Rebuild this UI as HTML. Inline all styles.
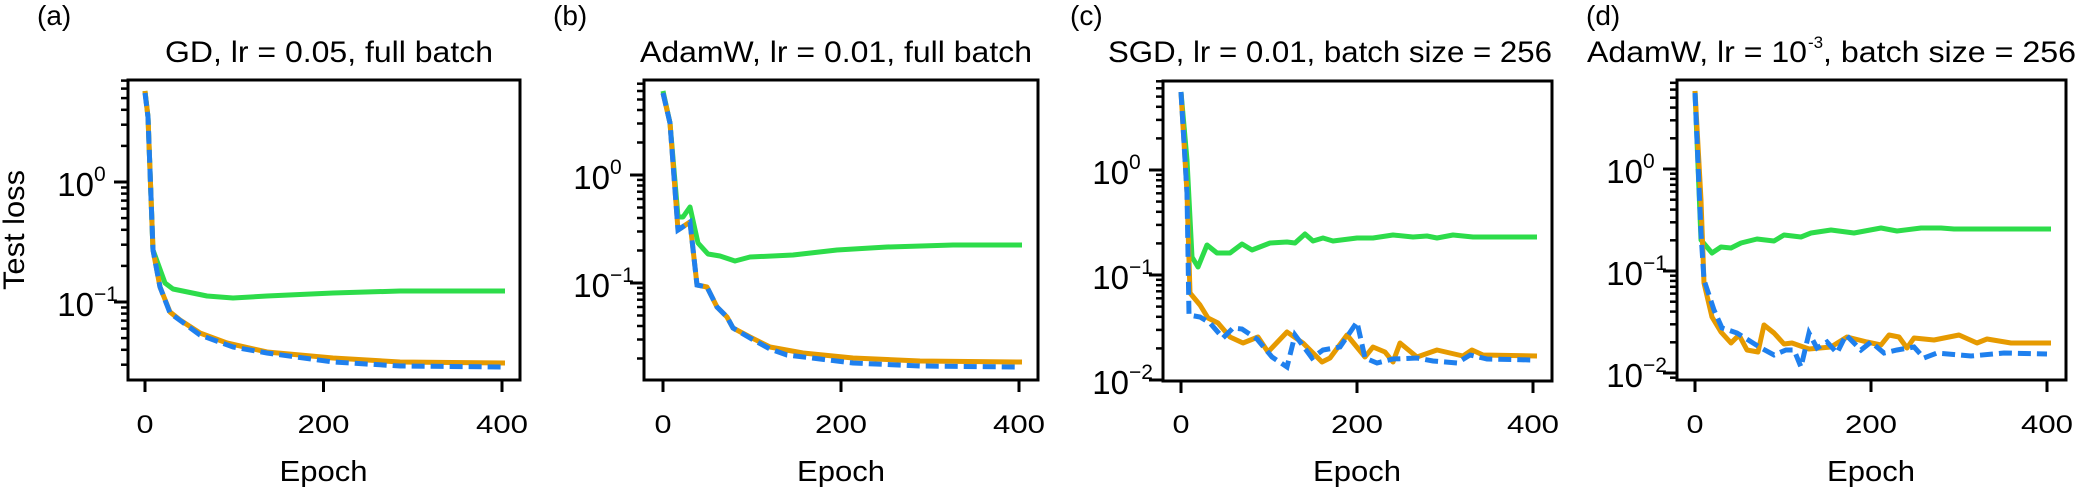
<!DOCTYPE html>
<html><head><meta charset="utf-8"><style>
html,body{margin:0;padding:0;background:#fff;}
svg{display:block;font-family:"Liberation Sans",Arial,sans-serif;}
</style></head><body>
<svg id="s" width="2094" height="488" viewBox="0 0 2094 488" xmlns="http://www.w3.org/2000/svg"></svg>
<script>
const P=[
 {L:128,R:520,T:80,B:380,y0:182,d:120,x0:145,x400:502,lab:"(a)",lx:37,title:"GD, lr = 0.05, full batch",tx:165,tw:328,
  g:[[145,91],[148,117],[153,250],[165,283],[173,289],[207,296],[233,298],[267,296],[333,293],[400,291],[505,291]],
  o:[[145,91],[148,117],[153,250],[160,287],[170,312],[180,320],[200,333],[227,343],[267,352],[333,358],[400,362],[505,363]],
  b:[[145,93],[148,117],[153,250],[160,287],[170,313],[200,335],[233,347],[267,353],[333,362],[400,366],[502,367]]},
 {L:644,R:1038,T:80,B:380,y0:175,d:108,x0:663,x400:1019,lab:"(b)",lx:553,title:"AdamW, lr = 0.01, full batch",tx:640,tw:392,
  g:[[663,91],[670,123],[678,217],[683,217],[690,207],[698,243],[708,254],[720,256],[735,261],[750,257],[793,255],[837,250],[887,247],[953,245],[1022,245]],
  o:[[663,93],[670,123],[678,230],[690,222],[697,285],[707,287],[717,307],[727,317],[733,328],[750,337],[770,347],[803,353],[853,358],[920,361],[1022,362]],
  b:[[663,93],[670,123],[678,230],[690,222],[697,285],[707,287],[717,307],[727,317],[733,328],[750,338],[770,349],[787,355],[853,363],[920,366],[1018,367]]},
 {L:1163,R:1552,T:81,B:381,y0:170,d:105,x0:1181,x400:1533,lab:"(c)",lx:1070,title:"SGD, lr = 0.01, batch size = 256",tx:1108,tw:444,
  g:[[1181,92],[1187,160],[1192,257],[1198,267],[1207,245],[1217,253],[1230,253],[1242,244],[1252,250],[1270,243],[1287,242],[1295,243],[1305,234],[1313,241],[1323,238],[1333,241],[1357,238],[1373,238],[1393,235],[1413,237],[1427,236],[1437,238],[1453,235],[1473,237],[1537,237]],
  o:[[1181,92],[1187,193],[1190,293],[1200,305],[1208,318],[1218,323],[1230,337],[1243,343],[1258,337],[1268,352],[1287,332],[1303,343],[1322,362],[1330,358],[1347,335],[1365,357],[1373,347],[1385,352],[1393,362],[1400,343],[1417,357],[1437,350],[1463,356],[1472,350],[1483,355],[1537,356]],
  b:[[1181,92],[1187,193],[1189,315],[1200,317],[1210,323],[1223,338],[1233,328],[1242,329],[1257,339],[1272,357],[1287,367],[1295,335],[1312,358],[1323,350],[1340,347],[1357,322],[1365,358],[1377,363],[1393,359],[1417,358],[1433,361],[1457,363],[1470,355],[1487,359],[1533,360]]},
 {L:1677,R:2066,T:80,B:380,y0:169,d:102,x0:1695,x400:2047,lab:"(d)",lx:1586,title:"",tx:1587,tw:489,
  g:[[1695,91],[1701,240],[1712,253],[1721,247],[1731,248],[1741,243],[1757,239],[1774,241],[1784,235],[1801,237],[1811,233],[1831,230],[1854,233],[1881,228],[1897,231],[1921,228],[1941,228],[1954,229],[2051,229]],
  o:[[1695,91],[1701,200],[1704,283],[1712,317],[1721,332],[1731,343],[1739,335],[1747,350],[1758,352],[1764,325],[1774,333],[1784,344],[1792,343],[1809,349],[1831,347],[1847,337],[1867,342],[1881,345],[1889,335],[1899,337],[1907,348],[1914,338],[1934,340],[1959,335],[1977,343],[1987,339],[2011,343],[2051,343]],
  b:[[1695,93],[1701,233],[1704,280],[1714,310],[1722,328],[1737,333],[1761,348],[1774,355],[1786,350],[1794,350],[1801,367],[1809,333],[1817,348],[1827,342],[1837,353],[1846,335],[1861,350],[1871,342],[1884,353],[1897,350],[1914,347],[1924,358],[1937,353],[1971,356],[2004,353],[2047,354]]}
];
let h="";
const pts=a=>a.map(p=>p.join(",")).join(" ");
P.forEach((p,i)=>{
  h+=`<polyline points="${pts(p.g)}" fill="none" stroke="#2ddc4a" stroke-width="5" stroke-linejoin="round"/>`;
  h+=`<polyline points="${pts(p.o)}" fill="none" stroke="#e69a00" stroke-width="5" stroke-linejoin="round"/>`;
  h+=`<polyline points="${pts(p.b)}" fill="none" stroke="#1f80ee" stroke-width="5" stroke-dasharray="13,6"/>`;
  h+=`<rect x="${p.L}" y="${p.T}" width="${p.R-p.L}" height="${p.B-p.T}" fill="none" stroke="#000" stroke-width="3"/>`;
  for(let e=-3;e<=1;e++)for(let k=1;k<=9;k++){
    const y=p.y0-(e+Math.log10(k))*p.d;
    if(y<p.T-1||y>p.B+1)continue;
    const len=k==1?14:7;
    h+=`<line x1="${p.L-len}" x2="${p.L}" y1="${y.toFixed(1)}" y2="${y.toFixed(1)}" stroke="#000" stroke-width="${k==1?3:2.5}"/>`;
    if(k==1){
      const ex=e==0?"0":"\u2212"+(-e);
      h+=`<text x="${p.L-34}" y="${(y+14).toFixed(1)}" font-size="33" text-anchor="end">10</text>`;
      h+=`<text x="${p.L-34}" y="${(y-1).toFixed(1)}" font-size="21">${ex}</text>`;
    }
  }
  [0,200,400].forEach(v=>{
    const x=p.x0+(p.x400-p.x0)*v/400;
    h+=`<line x1="${x}" x2="${x}" y1="${p.B}" y2="${p.B+12}" stroke="#000" stroke-width="3"/>`;
    const w=v==0?17:52;
    h+=`<text x="${x-w/2}" y="433" font-size="25" textLength="${w}" lengthAdjust="spacingAndGlyphs">${v}</text>`;
  });
  const cx=(p.x0+p.x400)/2;
  h+=`<text x="${cx-44}" y="481" font-size="29" textLength="88" lengthAdjust="spacingAndGlyphs">Epoch</text>`;
  h+=`<text x="${p.lx}" y="25" font-size="28">${p.lab}</text>`;
  if(p.title) h+=`<text x="${p.tx}" y="62" font-size="30" textLength="${p.tw}" lengthAdjust="spacingAndGlyphs">${p.title}</text>`;
});
h+=`<text x="1587" y="62" font-size="30" textLength="220" lengthAdjust="spacingAndGlyphs">AdamW, lr = 10</text>`;
h+=`<text x="1808" y="48" font-size="17">-3</text>`;
h+=`<text x="1823" y="62" font-size="30" textLength="253" lengthAdjust="spacingAndGlyphs">, batch size = 256</text>`;
h+=`<text transform="translate(24,290) rotate(-90)" font-size="30" textLength="120" lengthAdjust="spacingAndGlyphs">Test loss</text>`;
document.getElementById("s").innerHTML=h;
</script>
</body></html>
